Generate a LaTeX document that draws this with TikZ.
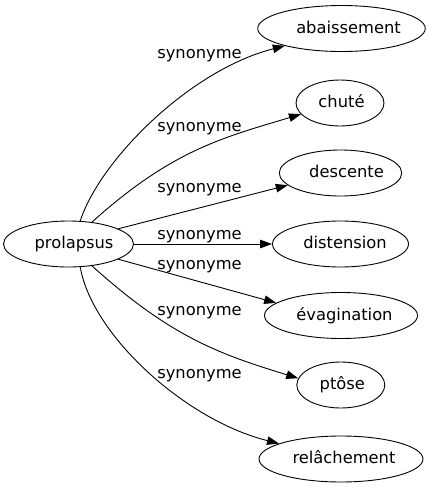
\documentclass[tikz,border=0pt]{standalone}
\usepackage{fontspec}
\setmainfont{DejaVu Sans}
\usetikzlibrary{shapes.geometric,arrows.meta}
\begin{document}
\begin{tikzpicture}[x=1pt,y=-1pt,
  every node/.style={font=\fontsize{16.3}{19}\selectfont},
  ell/.style={draw, ellipse, inner sep=0pt, minimum height=46pt, line width=0.9pt, text height=12pt, text depth=3pt},
  lbl/.style={anchor=base, inner sep=0pt},
  edge/.style={draw, line width=0.9pt, -{Triangle[length=12pt,width=8.5pt]}}
]
\useasboundingbox (0,0) rectangle (429,491);
\node[ell, minimum width=130pt] (p) at (68.5,244) {\hspace*{11pt}prolapsus};
\node[ell, minimum width=158pt] (n1) at (341.5,28.5) {\hspace*{14pt}abaissement};
\node[ell, minimum width=88pt] (n2) at (340,103) {\hspace*{3pt}chuté};
\node[ell, minimum width=118pt] (n3) at (340.5,173) {\hspace*{12pt}descente};
\node[ell, minimum width=136pt] (n4) at (340.5,244) {\hspace*{9pt}distension};
\node[ell, minimum width=153pt] (n5) at (341,315.5) {\hspace*{7pt}évagination};
\node[ell, minimum width=88pt] (n6) at (340.8,385) {\hspace*{3pt}ptôse};
\node[ell, minimum width=164pt] (n7) at (341,459) {\hspace*{6pt}relâchement};

\draw[edge] (p.63) .. controls (100,160) and (190,70) .. (n1.197);
\draw[edge] (p.43) .. controls (171.5,150.5) and (221.5,138) .. (n2.196);
\draw[edge] (p.17) -- (n3.193);
\draw[edge] (p.east) -- (n4.west);
\draw[edge] (p.-17) -- (n5.169);
\draw[edge] (p.-43) .. controls (171.5,337.5) and (220,354.3) .. (n6.171);
\draw[edge] (p.-63) .. controls (92,335) and (185,420) .. (n7.166);

\node[lbl] (l1) at (199.5,58.3) {synonyme};
\node[lbl] (l2) at (199.5,131) {synonyme};
\node[lbl] (l3) at (199.5,192.7) {synonyme};
\node[lbl] (l4) at (199.5,239.3) {synonyme};
\node[lbl] (l5) at (199.5,269) {synonyme};
\node[lbl] (l6) at (199.5,315) {synonyme};
\node[lbl] (l7) at (199.5,378.3) {synonyme};
\end{tikzpicture}
\end{document}
